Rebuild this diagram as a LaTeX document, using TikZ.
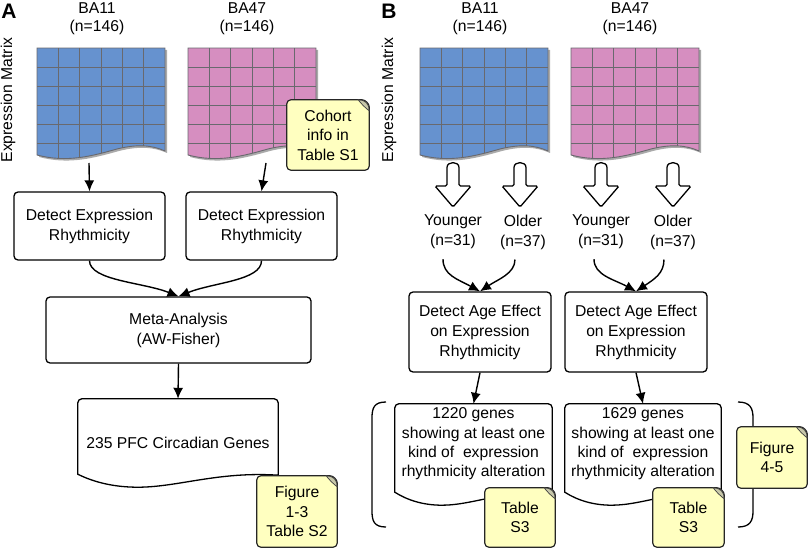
\documentclass[tikz,border=0pt]{standalone}
\usepackage{fontspec}
\setmainfont{Liberation Sans}
\usetikzlibrary{arrows.meta,calc,backgrounds}

\definecolor{mblue}{RGB}{102,146,207}
\definecolor{mpink}{RGB}{214,142,192}
\definecolor{mgrid}{RGB}{105,105,110}
\definecolor{mshadow}{RGB}{170,170,170}
\definecolor{noteyellow}{RGB}{255,255,192}
\definecolor{notefold}{RGB}{200,200,170}

\begin{document}
\begin{tikzpicture}[x=1pt,y=-1pt]
	\tikzset{every node/.style={font=\fontsize{15.7}{20}\selectfont, align=center, inner sep=2pt}}
	\tikzset{panel/.style={font=\fontsize{21}{22}\selectfont\bfseries}}
	\tikzset{title/.style={font=\fontsize{15.7}{18}\selectfont}}
	\tikzset{procbox/.style={draw, line width=1.3pt, rounded corners=4pt, fill=white}}
	\tikzset{docnode/.style={inner sep=0pt}}
	\tikzset{notenode/.style={inner sep=0pt, font=\fontsize{15.7}{19.5}\selectfont}}
	\tikzset{flow/.style={line width=1.4pt, -{Latex[length=11pt,width=10pt]}}}
	\tikzset{gridline/.style={draw=mgrid, line width=0.9pt}}
	\tikzset{docline/.style={draw, line width=1.3pt, fill=white}}
	\tikzset{noteline/.style={draw=black!85, line width=1.2pt, fill=noteyellow, rounded corners=4pt}}
	\tikzset{blockarrow/.style={draw, line width=1.3pt, fill=white, rounded corners=1.5pt}}

	\useasboundingbox (0,0) rectangle (810,548);

	% panel A
	\node[panel] (labA) at (9,11) {A};
	\node[title] (ba11A) at (97,19) {BA11\\(n=146)};
	\node[title] (ba47A) at (247,19) {BA47\\(n=146)};
	\node[rotate=90] (exprA) at (8,100) {Expression Matrix};
	\coordinate (matA1) at (89,163);
	\coordinate (matA2) at (266,163);
	\node[procbox, minimum width=151pt, minimum height=68pt] (det1) at (89.5,226) {Detect Expression\\Rhythmicity};
	\node[procbox, minimum width=151pt, minimum height=68pt] (det2) at (261.5,226) {Detect Expression\\Rhythmicity};
	\node[procbox, minimum width=265pt, minimum height=66pt] (meta) at (178.5,330) {Meta-Analysis\\(AW-Fisher)};
	\node[docnode, minimum width=200pt, minimum height=88pt] (circ) at (178,443) {235 PFC Circadian Genes};
	\node[notenode, minimum width=82pt, minimum height=70pt] (infoS1) at (328,135) {Cohort\\info in\\Table S1};
	\node[notenode, minimum width=80pt, minimum height=71pt] (figA) at (297,511.5) {Figure\\1-3\\Table S2};

	% panel B
	\node[panel] (labB) at (389,11) {B};
	\node[title] (ba11B) at (480,19) {BA11\\(n=146)};
	\node[title] (ba47B) at (630,19) {BA47\\(n=146)};
	\node[rotate=90] (exprB) at (389,100) {Expression Matrix};
	\node (young1) at (453,232) {Younger\\(n=31)};
	\node (old1) at (523,232) {Older\\(n=37)};
	\node (young2) at (601,232) {Younger\\(n=31)};
	\node (old2) at (673,232) {Older\\(n=37)};
	\node[procbox, minimum width=142pt, minimum height=80pt] (age1) at (480,332) {Detect Age Effect\\on Expression\\Rhythmicity};
	\node[procbox, minimum width=142pt, minimum height=80pt] (age2) at (636,332) {Detect Age Effect\\on Expression\\Rhythmicity};
	\node[docnode, minimum width=157pt, minimum height=80pt, font=\fontsize{15.7}{19.3}\selectfont] (genes1) at (473.5,444) {1220 genes\\showing at least one\\kind of~ expression\\rhythmicity alteration};
	\node[docnode, minimum width=156pt, minimum height=80pt, font=\fontsize{15.7}{19.3}\selectfont] (genes2) at (643,444) {1629 genes\\showing at least one\\kind of~ expression\\rhythmicity alteration};
	\node[notenode, minimum width=70pt, minimum height=59pt] (tabS3a) at (520,517.5) {Table\\S3};
	\node[notenode, minimum width=71pt, minimum height=59pt] (tabS3b) at (688.5,517.5) {Table\\S3};
	\node[notenode, minimum width=70pt, minimum height=61pt] (figB) at (772,457.5) {Figure\\4-5};

	% block arrows (split by age)
	\foreach \bx in {453,520,601,673}
		\draw[blockarrow] (\bx-6,186) -- (\bx-6,169) .. controls (\bx-6,161) and (\bx+6,161) .. (\bx+6,169) -- (\bx+6,186) -- (\bx+18,186) -- (\bx,207) -- (\bx-18,186) -- cycle;

	% edges
	\draw[flow] (matA1) -- (det1.north);
	\draw[flow] (matA2) -- (det2.north);
	\draw[flow] (det1.south) .. controls +(0,20) and +(-35,-14) .. (meta.north);
	\draw[flow] (det2.south) .. controls +(0,20) and +(35,-14) .. (meta.north);
	\draw[flow] (meta.south) -- (circ.north);
	\draw[flow] ($(young1.south)+(-10,8)$) .. controls +(0,16) and +(-22,-12) .. (age1.north);
	\draw[flow] ($(old1.south)+(-8,8)$) .. controls +(0,14) and +(18,-12) .. (age1.north);
	\draw[flow] ($(young2.south)+(-7,8)$) .. controls +(0,16) and +(-22,-12) .. (age2.north);
	\draw[flow] ($(old2.south)+(-9,8)$) .. controls +(0,14) and +(18,-12) .. (age2.north);
	\draw[flow] (age1.south) -- (genes1.north);
	\draw[flow] (age2.south) -- (genes2.north);

	\begin{scope}[on background layer]
		% expression matrices
		\foreach \mx/\mc in {37/mblue, 188/mpink, 420/mblue, 571/mpink} {
			\fill[mshadow] (\mx+2,50) -- (\mx+130,50) -- (\mx+130,153) .. controls (\mx+117,147) and (\mx+102,146) .. (\mx+82,151) .. controls (\mx+57,158) and (\mx+32,165) .. (\mx+2,157) -- cycle;
			\begin{scope}
				\clip (\mx,48) -- (\mx+128,48) -- (\mx+128,151) .. controls (\mx+115,145) and (\mx+100,144) .. (\mx+80,149) .. controls (\mx+55,156) and (\mx+30,163) .. (\mx,155) -- cycle;
				\fill[\mc] (\mx,48) rectangle (\mx+128,166);
				\foreach \k in {1,...,5} {
					\draw[gridline] (\mx+\k*21.33,48) -- (\mx+\k*21.33,166);
					\draw[gridline] (\mx,48+\k*19) -- (\mx+128,48+\k*19);
				}
			\end{scope}
			\draw[gridline] (\mx,48) -- (\mx+128,48) -- (\mx+128,151) .. controls (\mx+115,145) and (\mx+100,144) .. (\mx+80,149) .. controls (\mx+55,156) and (\mx+30,163) .. (\mx,155) -- cycle;
		}

		% document shapes
		\foreach \d/\dy in {circ/0, genes1/21, genes2/21} {
			\path[docline] ($(\d.south west)+(0,\dy-13)$) [rounded corners=4pt] -- (\d.north west) -- (\d.north east) -- ($(\d.north east)+(0,10)$) [sharp corners] -- ($(\d.south east)+(0,\dy-12)$) .. controls ($(\d.south west)!0.7!(\d.south east)+(0,\dy-16)$) and ($(\d.south west)!0.5!(\d.south east)+(0,\dy)$) .. ($(\d.south west)!0.3!(\d.south east)+(0,\dy)$) .. controls ($(\d.south west)!0.18!(\d.south east)+(0,\dy)$) and ($(\d.south west)!0.08!(\d.south east)+(0,\dy-5)$) .. ($(\d.south west)+(0,\dy-13)$) -- cycle;
		}

		% brackets
		\draw[line width=1.3pt] (386,402) .. controls (374,402) and (372,408) .. (372,418) -- (372,511) .. controls (372,521) and (374,527) .. (386,527);
		\draw[line width=1.3pt] (738,402) .. controls (750,402) and (753,408) .. (753,418) -- (753,511) .. controls (753,521) and (750,527) .. (738,527);

		% notes
		\foreach \n in {infoS1, figA, tabS3a, tabS3b, figB} {
			\path[noteline] (\n.south west) -- (\n.north west) -- ($(\n.north east)+(-11,0)$) .. controls ($(\n.north east)+(-4,0)$) and ($(\n.north east)+(0,4)$) .. ($(\n.north east)+(0,11)$) -- (\n.south east) -- cycle;
			\filldraw[fill=notefold, draw=black!75, line width=0.7pt] ($(\n.north east)+(-11,0)$) .. controls ($(\n.north east)+(-4,0)$) and ($(\n.north east)+(0,4)$) .. ($(\n.north east)+(0,11)$) .. controls ($(\n.north east)+(-4,8)$) and ($(\n.north east)+(-8,4)$) .. ($(\n.north east)+(-11,0)$) -- cycle;
		}
	\end{scope}
\end{tikzpicture}
\end{document}
